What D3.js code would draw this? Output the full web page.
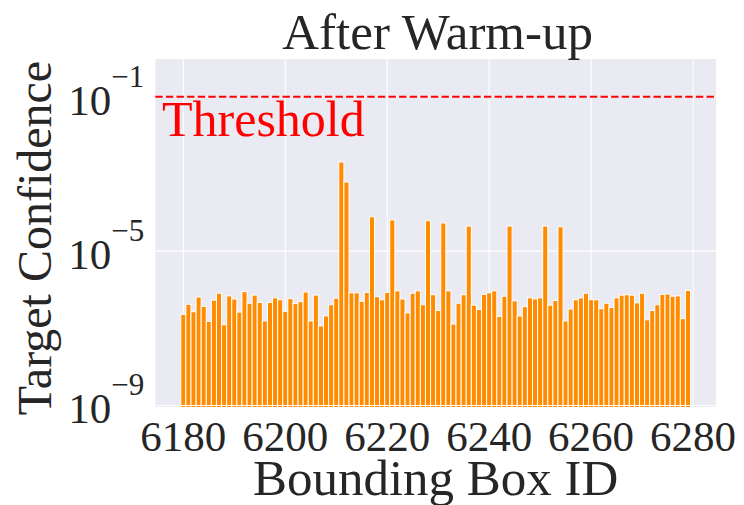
<!DOCTYPE html>
<html>
<head>
<meta charset="utf-8">
<script src="https://cdn.jsdelivr.net/npm/d3@7"></script>
<style>
  body { margin: 0; background: #fff; }
  text { font-family: "Liberation Serif", "Times New Roman", serif; fill: #262626; }
</style>
</head>
<body>
<script>
const width = 744,
      height = 505

// bounding box ids (one bar each)
const boxIds = d3.range(6180, 6280)

// log10 of target confidence
const logConfidence = [
  -6.64, -6.38, -6.57, -6.19, -6.43, -6.82, -6.27, -6.09, -6.91, -6.16,
  -6.24, -6.58, -6.05, -6.35, -6.14, -6.33, -6.81, -6.33, -6.21, -6.26,
  -6.56, -6.23, -6.36, -6.31, -6.06, -6.81, -6.14, -6.94, -6.68, -6.39,
  -6.22, -2.69, -3.21, -6.08, -6.08, -6.30, -6.07, -4.11, -6.18, -6.26,
  -6.07, -4.19, -6.03, -6.24, -6.60, -6.09, -6.03, -6.39, -4.21, -6.13,
  -6.54, -4.27, -6.03, -6.89, -6.35, -6.13, -4.35, -6.40, -6.51, -6.12,
  -6.08, -6.03, -6.69, -6.17, -4.35, -6.29, -6.68, -6.44, -6.21, -6.24,
  -6.21, -4.35, -6.40, -6.28, -4.37, -6.81, -6.50, -6.26, -6.21, -6.09,
  -6.26, -6.26, -6.49, -6.35, -6.46, -6.21, -6.14, -6.13, -6.14, -6.34,
  -6.09, -6.78, -6.54, -6.39, -6.12, -6.11, -6.17, -6.16, -6.75, -6.02
]

const xTicks = [6180, 6200, 6220, 6240, 6260, 6280]
const yTickExps = [-9, -5, -1]
const threshold = 0.1

const data = boxIds.map((id, i) => ({ id: id, value: Math.pow(10, logConfidence[i]) }))

const plot = { left: 155.3, top: 59, right: 716, bottom: 407 }

const x = d3.scaleLinear()
    .domain([6174.5, 6284.5])
    .range([plot.left, plot.right])

const y = d3.scaleLog()
    .domain([Math.pow(10, -9.04), Math.pow(10, -0.02)])
    .range([plot.bottom, plot.top])

const svg = d3.select('body').append('svg')
    .attr('width', width)
    .attr('height', height)

svg.append('defs').append('clipPath').attr('id', 'clip')
  .append('rect')
    .attr('x', plot.left)
    .attr('y', plot.top)
    .attr('width', plot.right - plot.left)
    .attr('height', plot.bottom - plot.top)

// background
svg.append('rect')
    .attr('x', plot.left)
    .attr('y', plot.top)
    .attr('width', plot.right - plot.left)
    .attr('height', plot.bottom - plot.top)
    .style('fill', '#EAEAF2')

// grid
const grid = svg.append('g').attr('clip-path', 'url(#clip)')
grid.selectAll('.vgrid')
    .data(xTicks)
    .enter()
    .append('line')
    .attr('x1', d => x(d))
    .attr('x2', d => x(d))
    .attr('y1', plot.top)
    .attr('y2', plot.bottom)
    .style('stroke', '#fff')
    .style('stroke-width', 1.1)
grid.selectAll('.hgrid')
    .data(yTickExps)
    .enter()
    .append('line')
    .attr('x1', plot.left)
    .attr('x2', plot.right)
    .attr('y1', d => y(Math.pow(10, d)))
    .attr('y2', d => y(Math.pow(10, d)))
    .style('stroke', '#fff')
    .style('stroke-width', 1.1)

// bars (width 1, white edges)
const bars = svg.append('g').attr('clip-path', 'url(#clip)')
bars.selectAll('.base')
    .data(data)
    .enter()
    .append('rect')
    .attr('x', d => x(d.id - 0.5))
    .attr('width', d => x(d.id + 0.5) - x(d.id - 0.5))
    .attr('y', y(1e-9))
    .attr('height', plot.bottom - y(1e-9) + 2)
    .style('fill', '#FF8C00')
    .style('stroke', '#fff')
    .style('stroke-width', 1)
bars.selectAll('.bar')
    .data(data)
    .enter()
    .append('rect')
    .attr('x', d => x(d.id - 0.5))
    .attr('width', d => x(d.id + 0.5) - x(d.id - 0.5))
    .attr('y', d => y(d.value))
    .attr('height', d => y(1e-9) - y(d.value))
    .style('fill', '#FF8C00')
    .style('stroke', '#fff')
    .style('stroke-width', 1)

// threshold
svg.append('line')
    .attr('x1', plot.left)
    .attr('x2', plot.right)
    .attr('y1', y(threshold))
    .attr('y2', y(threshold))
    .style('stroke', '#FF0000')
    .style('stroke-width', 2)
    .style('stroke-dasharray', '7.4,3.2')

svg.append('text')
    .attr('x', 162)
    .attr('y', 136)
    .text('Threshold')
    .style('font-size', '50px')
    .style('fill', '#FF0000')

// x tick labels
svg.selectAll('.xlab')
    .data(xTicks)
    .enter()
    .append('text')
    .attr('x', d => x(d))
    .attr('y', 451)
    .attr('text-anchor', 'middle')
    .style('font-size', '43px')
    .text(d => d)

// y tick labels
const ylab = svg.selectAll('.ylab')
    .data(yTickExps)
    .enter()
    .append('text')
    .attr('x', plot.left - 11)
    .attr('y', d => y(Math.pow(10, d)) + 18)
    .attr('text-anchor', 'end')
    .style('font-size', '43px')
ylab.append('tspan').text('10')
ylab.append('tspan')
    .attr('dy', -28)
    .style('font-size', '31px')
    .text(d => '\u2212' + Math.abs(d))

// titles
svg.append('text')
    .attr('x', (plot.left + plot.right) / 2 + 2)
    .attr('y', 49)
    .attr('text-anchor', 'middle')
    .style('font-size', '51px')
    .text('After Warm-up')

svg.append('text')
    .attr('x', (plot.left + plot.right) / 2)
    .attr('y', 495)
    .attr('text-anchor', 'middle')
    .style('font-size', '51px')
    .text('Bounding Box ID')

svg.append('text')
    .attr('transform', 'translate(51,' + 238 + ') rotate(-90)')
    .attr('text-anchor', 'middle')
    .style('font-size', '48px')
    .text('Target Confidence')
</script>
</body>
</html>
